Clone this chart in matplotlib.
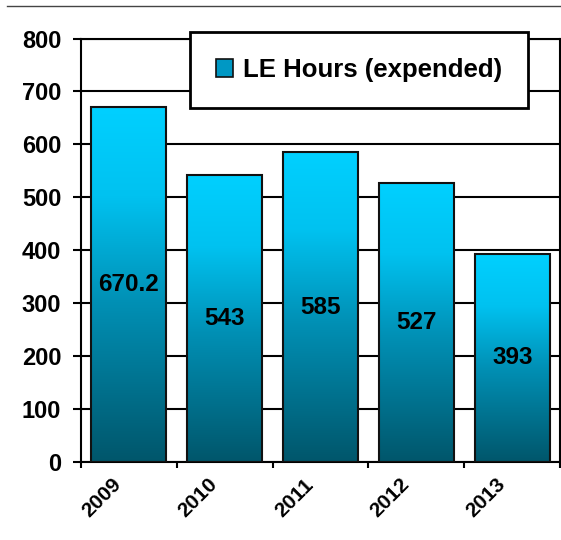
import numpy as np
import matplotlib

matplotlib.use("Agg")
import matplotlib.pyplot as plt
from matplotlib.colors import LinearSegmentedColormap
from matplotlib.lines import Line2D
from matplotlib.patches import Patch
from matplotlib.transforms import ScaledTranslation

# data
years = ["2009", "2010", "2011", "2012", "2013"]
le_hours = [670.2, 543, 585, 527, 393]
value_labels = ["670.2", "543", "585", "527", "393"]
y_ticks = [0, 100, 200, 300, 400, 500, 600, 700, 800]
series_name = "LE Hours (expended)"

plt.rcParams["font.family"] = ["Liberation Sans", "DejaVu Sans"]
plt.rcParams["font.weight"] = "bold"

# dark teal at the bottom, bright cyan at the top
bar_cmap = LinearSegmentedColormap.from_list(
    "le_bar",
    [(0.0, "#00566b"), (0.45, "#0090b5"), (0.75, "#00c2f0"), (1.0, "#00d0ff")],
)

fig = plt.figure(figsize=(5.61, 5.40), dpi=100)
ax = fig.add_axes([0.1435, 0.1444, 0.8556, 0.7843])

x = np.arange(len(years))
bars = ax.bar(
    x, le_hours, width=0.78, facecolor="none", edgecolor="#111111",
    linewidth=1.5, zorder=3,
)

# gradient fill, one per bar, stretched over its own height
grad = np.linspace(0, 1, 256).reshape(-1, 1)
for bar in bars:
    x0, y0 = bar.get_x(), bar.get_y()
    ax.imshow(
        grad, cmap=bar_cmap, origin="lower", aspect="auto", zorder=2,
        extent=[x0, x0 + bar.get_width(), y0, y0 + bar.get_height()],
    )

for xi, val, txt in zip(x, le_hours, value_labels):
    ax.text(xi, val / 2, txt, ha="center", va="center", fontsize=17.5,
            fontweight="bold", color="black", zorder=4)

ax.set_xlim(-0.5, len(years) - 0.5)
ax.set_ylim(0, 800)
ax.set_yticks(y_ticks)
ax.set_yticklabels([str(t) for t in y_ticks])

ax.set_xticks(x)
ax.set_xticklabels(years, rotation=45, ha="right", va="center",
                   rotation_mode="anchor", fontsize=15, fontweight="bold")
ax.set_xticks(np.arange(len(years) + 1) - 0.5, minor=True)
ax.tick_params(axis="x", which="major", length=0, pad=14)
ax.tick_params(axis="x", which="minor", length=4.3, width=1.5, direction="out")
ax.tick_params(axis="y", length=5.8, width=1.5, pad=8, labelsize=17)
for lab in ax.get_xticklabels():
    lab.set_transform(lab.get_transform()
                      + ScaledTranslation(-0.10, 0, fig.dpi_scale_trans))

ax.yaxis.grid(True, color="black", linewidth=1.5)
ax.set_axisbelow(True)
for side in ["left", "right", "bottom", "top"]:
    ax.spines[side].set_color("black")
    ax.spines[side].set_linewidth(1.5)

# legend box
handle = Patch(facecolor="#0098c4", edgecolor="#111111", linewidth=1.2)
leg = fig.legend(
    [handle], [series_name], loc="center",
    bbox_to_anchor=(359 / 561, 1 - 70 / 540), fontsize=18.5,
    frameon=True, fancybox=False, borderpad=1.0, handlelength=0.65,
    handleheight=0.65, handletextpad=0.4, borderaxespad=0,
)
leg.get_frame().set_edgecolor("black")
leg.get_frame().set_linewidth(2)
leg.get_frame().set_alpha(1)
for t in leg.get_texts():
    t.set_fontweight("bold")

# thin separator line at the very top
fig.add_artist(Line2D([7 / 561, 1.0], [1 - 6 / 540, 1 - 6 / 540],
                      color="#444444", linewidth=1))

fig.savefig("out.png", dpi=100)
